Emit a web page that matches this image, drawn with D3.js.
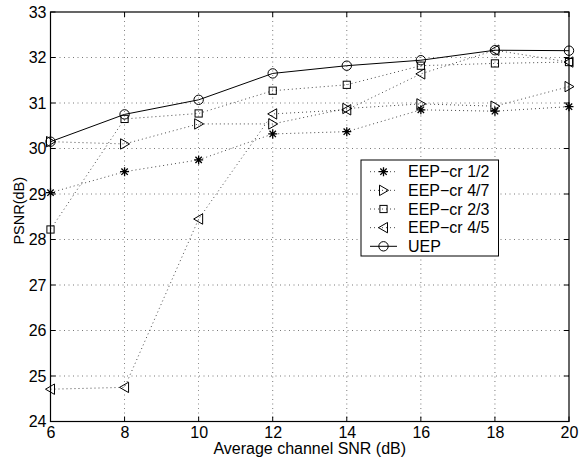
<!DOCTYPE html>
<html><head><meta charset="utf-8">
<script src="https://cdn.jsdelivr.net/npm/d3@7"></script>
<style>body{margin:0;background:#fff}svg{display:block}text{font-family:"Liberation Sans",Arial,sans-serif;fill:#000}</style>
</head><body><svg id="c" width="579" height="461"></svg>
<script>
const snr = [6, 8, 10, 12, 14, 16, 18, 20];
const eep12 = [29.03, 29.49, 29.75, 30.32, 30.37, 30.85, 30.82, 30.92];
const eep47 = [30.15, 30.10, 30.54, 30.54, 30.88, 30.98, 30.93, 31.36];
const eep23 = [28.22, 30.65, 30.77, 31.27, 31.40, 31.82, 31.87, 31.90];
const eep45 = [24.71, 24.75, 28.45, 30.76, 30.85, 31.64, 32.16, 31.90];
const uep = [30.15, 30.75, 31.07, 31.65, 31.82, 31.94, 32.16, 32.15];
const xTicks = [6, 8, 10, 12, 14, 16, 18, 20];
const yTicks = [24, 25, 26, 27, 28, 29, 30, 31, 32, 33];
const seriesNames = ["EEP\u2212cr 1/2", "EEP\u2212cr 4/7", "EEP\u2212cr 2/3", "EEP\u2212cr 4/5", "UEP"];

const series = [
  {name: seriesNames[0], vals: eep12, m: "star", solid: false},
  {name: seriesNames[1], vals: eep47, m: "tri-r", solid: false},
  {name: seriesNames[2], vals: eep23, m: "sq", solid: false},
  {name: seriesNames[3], vals: eep45, m: "tri-l", solid: false},
  {name: seriesNames[4], vals: uep, m: "circ", solid: true}
];

const svg = d3.select("#c");
const L = 50.5, R = 569, T = 12, B = 421.5;
const x = d3.scaleLinear().domain([6, 20]).range([L, R]);
const y = d3.scaleLinear().domain([24, 33]).range([B, T]);

// grid
const g = svg.append("g");
g.selectAll(".gx").data(xTicks.slice(1, -1)).join("line")
  .attr("x1", d => x(d)).attr("x2", d => x(d)).attr("y1", T).attr("y2", B)
  .attr("stroke", "#000").attr("stroke-width", 0.7).attr("stroke-dasharray", "1,3.5").attr("opacity", 0.75);
g.selectAll(".gy").data(yTicks.slice(1, -1)).join("line")
  .attr("y1", d => y(d)).attr("y2", d => y(d)).attr("x1", L).attr("x2", R)
  .attr("stroke", "#000").attr("stroke-width", 0.7).attr("stroke-dasharray", "1,3.5").attr("opacity", 0.75);

// axes
const ax = svg.append("g").attr("transform", `translate(0,${B})`)
  .call(d3.axisBottom(x).tickValues(xTicks).tickSize(0).tickPadding(5).tickFormat(d3.format("d")));
const ay = svg.append("g").attr("transform", `translate(${L},0)`)
  .call(d3.axisLeft(y).tickValues(yTicks).tickSize(0).tickPadding(4).tickFormat(d3.format("d")));
[ax, ay].forEach(a => { a.select(".domain").remove(); a.selectAll("text").attr("font-size", 16).attr("font-family", '"Liberation Sans",Arial,sans-serif'); });
ax.selectAll("text").attr("dy", "0.72em");
// inner ticks
const tk = svg.append("g").attr("stroke", "#000").attr("stroke-width", 1);
xTicks.forEach(d => {
  tk.append("line").attr("x1", x(d)).attr("x2", x(d)).attr("y1", B).attr("y2", B - 5);
  tk.append("line").attr("x1", x(d)).attr("x2", x(d)).attr("y1", T).attr("y2", T + 5);
});
yTicks.forEach(d => {
  tk.append("line").attr("y1", y(d)).attr("y2", y(d)).attr("x1", L).attr("x2", L + 5);
  tk.append("line").attr("y1", y(d)).attr("y2", y(d)).attr("x1", R).attr("x2", R - 5);
});
svg.append("rect").attr("x", L).attr("y", T).attr("width", R - L).attr("height", B - T)
  .attr("fill", "none").attr("stroke", "#000").attr("stroke-width", 1.2);

function marker(sel, type, cx, cy) {
  const s = sel.append("g").attr("transform", `translate(${cx},${cy})`)
    .attr("fill", "none").attr("stroke", "#000").attr("stroke-width", 1);
  if (type === "circ") s.append("circle").attr("r", 4.7);
  else if (type === "sq") s.append("rect").attr("x", -3.6).attr("y", -3.6).attr("width", 7.2).attr("height", 7.2);
  else if (type === "tri-r") s.append("path").attr("d", "M-4,-5.2L5,0L-4,5.2Z");
  else if (type === "tri-l") s.append("path").attr("d", "M4,-5.2L-5,0L4,5.2Z");
  else if (type === "star") {
    s.attr("stroke-width", 1.3);
    s.append("path").attr("d", "M0,-4.5L0,4.5M-4.5,0L4.5,0M-3.2,-3.2L3.2,3.2M-3.2,3.2L3.2,-3.2");
  }
}

const line = d3.line().x(d => x(d[0])).y(d => y(d[1]));
series.forEach(sr => {
  const pts = snr.map((v, i) => [v, sr.vals[i]]);
  svg.append("path").attr("d", line(pts)).attr("fill", "none").attr("stroke", "#000")
    .attr("stroke-width", sr.solid ? 1 : 0.9)
    .attr("stroke-dasharray", sr.solid ? null : "1,3")
    .attr("opacity", sr.solid ? 1 : 0.8);
  pts.forEach(p => marker(svg, sr.m, x(p[0]), y(p[1])));
});

// legend
const lg = svg.append("g");
lg.append("rect").attr("x", 361).attr("y", 160).attr("width", 137.5).attr("height", 96)
  .attr("fill", "#fff").attr("stroke", "#000").attr("stroke-width", 1);
series.forEach((sr, i) => {
  const ly = 171.7 + i * 18.65;
  lg.append("line").attr("x1", 370).attr("x2", 397).attr("y1", ly).attr("y2", ly)
    .attr("stroke", "#000").attr("stroke-width", sr.solid ? 1 : 0.9)
    .attr("stroke-dasharray", sr.solid ? null : "1,3").attr("opacity", sr.solid ? 1 : 0.8);
  marker(lg, sr.m, 383.5, ly);
  lg.append("text").attr("x", 408).attr("y", ly).attr("dy", "0.36em").attr("font-size", 16).text(sr.name);
});

// labels
svg.append("text").attr("x", (L + R) / 2).attr("y", 454).attr("text-anchor", "middle").attr("font-size", 16)
  .text("Average channel SNR (dB)");
svg.append("text").attr("transform", `translate(24,${(T + B) / 2 - 6}) rotate(-90)`).attr("text-anchor", "middle")
  .attr("font-size", 14.5).text("PSNR(dB)");
</script></body></html>
